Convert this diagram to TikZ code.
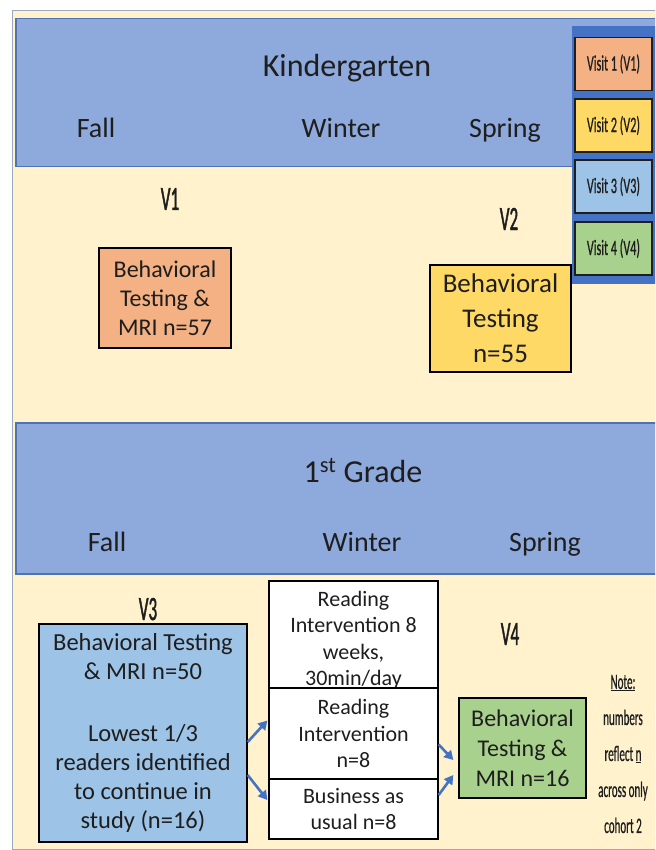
\documentclass[tikz,border=0pt]{standalone}
\usepackage{fontspec}
\setmainfont{Carlito}
\newfontfamily\narrowV[FakeStretch=0.5,FakeBold=1.2]{Carlito}
\newfontfamily\narrowL[FakeStretch=0.55,FakeBold=0.6]{Carlito}
\newfontfamily\narrowN[FakeStretch=0.5,FakeBold=0.6]{Carlito}
\usetikzlibrary{arrows.meta}
\definecolor{cream}{HTML}{FFF2CC}
\definecolor{bandblue}{HTML}{8EA9DB}
\definecolor{bandedge}{HTML}{4F72B5}
\definecolor{framecol}{HTML}{9AA8C0}
\definecolor{legpanel}{HTML}{4472C4}
\definecolor{legedge}{HTML}{1E1E1E}
\definecolor{vonecol}{HTML}{F4B183}
\definecolor{vtwocol}{HTML}{FFD966}
\definecolor{vthreecol}{HTML}{9DC3E6}
\definecolor{vfourcol}{HTML}{A9D18E}
\definecolor{arrblue}{HTML}{4472C4}
\definecolor{txt}{HTML}{1E1E1E}
\begin{document}
\begin{tikzpicture}[x=1pt,y=-1pt,
  band/.style={fill=bandblue, draw=bandedge, line width=1.5pt, inner sep=0, anchor=north west},
  hdr/.style={font=\fontsize{28}{34}\selectfont, text=txt, anchor=base, inner sep=0},
  ttl/.style={font=\fontsize{32}{38}\selectfont, text=txt, anchor=base, inner sep=0},
  vlab/.style={font=\narrowV\fontsize{34}{40}\selectfont, text=txt, anchor=base, inner sep=0},
  box/.style={draw=black, line width=1.3pt, inner sep=0, align=center, text=txt},
  btext/.style={inner sep=0, align=center, text=txt},
  legbox/.style={draw=legedge, line width=1.5pt, minimum width=77pt, minimum height=53pt, inner sep=0, text=txt, font=\narrowL\fontsize{22}{26}\selectfont},
  arr/.style={draw=arrblue, line width=2.6pt, -{Triangle[length=9pt,width=10pt]}}
]
\useasboundingbox (0,0) rectangle (655,850);
\clip (0,0) rectangle (655,850);
\fill[white] (0,0) rectangle (655,850);

% outer frame
\node[fill=cream, draw=framecol, line width=1pt, inner sep=0, anchor=north west,
      minimum width=650pt, minimum height=839pt] (frame) at (12,10) {};

% bands
\node[band, minimum width=645pt, minimum height=148pt] (kband) at (15,18) {};
\node[band, minimum width=645pt, minimum height=151pt] (gband) at (15,422) {};

% legend
\node[fill=legpanel, inner sep=0, anchor=north west, minimum width=90pt, minimum height=258pt] (legend) at (572,26) {};
\node[legbox, fill=vonecol] (lg1) at (613.5,64) {Visit 1 (V1)};
\node[legbox, fill=vtwocol] (lg2) at (613.5,125.5) {Visit 2 (V2)};
\node[legbox, fill=vthreecol] (lg3) at (613.5,186.5) {Visit 3 (V3)};
\node[legbox, fill=vfourcol] (lg4) at (613.5,248.5) {Visit 4 (V4)};

% Kindergarten header
\node[ttl] (ktitle) at (347,77) {Kindergarten};
\node[hdr] (kfall) at (96,138) {Fall};
\node[hdr] (kwinter) at (341,138) {Winter};
\node[hdr] (kspring) at (505,138) {Spring};

% Kindergarten content
\node[vlab] (v1lab) at (170,210) {V1};
\node[vlab] (v2lab) at (509,230) {V2};
\node[box, fill=vonecol, minimum width=132pt, minimum height=100pt,
      font=\fontsize{24}{29}\selectfont] (v1box) at (165,298)
      {Behavioral\\Testing \&\\MRI n=57};
\node[box, fill=vtwocol, minimum width=141pt, minimum height=107pt,
      font=\fontsize{27}{35}\selectfont] (v2box) at (500.5,318.5)
      {Behavioral\\Testing\\n=55};

% 1st grade header
\node[ttl] (gtitle) at (363,482) {1\textsuperscript{st} Grade};
\node[hdr] (gfall) at (107,551) {Fall};
\node[hdr] (gwinter) at (362,551) {Winter};
\node[hdr] (gspring) at (545,551) {Spring};

% 1st grade content
\node[vlab] (v3lab) at (148,620) {V3};
\node[vlab] (v4lab) at (510,645) {V4};

\node[box, fill=vthreecol, minimum width=208pt, minimum height=218pt,
      font=\fontsize{24.5}{29}\selectfont] (v3box) at (143,733)
      {Behavioral Testing\\\& MRI n=50\\[33pt]Lowest 1/3\\readers identified\\to continue in\\study (n=16)};

\node[box, fill=white, minimum width=169pt, minimum height=107pt] (topbox) at (353.5,634.5) {};
\node[btext, font=\fontsize{22}{26.5}\selectfont] (toptext) at (353.5,640)
      {Reading\\Intervention 8\\weeks,\\30min/day};
\node[box, fill=white, minimum width=169pt, minimum height=91pt,
      font=\fontsize{22}{26.5}\selectfont] (midbox) at (353.5,733.5)
      {Reading\\Intervention\\n=8};
\node[box, fill=white, minimum width=169pt, minimum height=60pt,
      font=\fontsize{22}{26.5}\selectfont] (botbox) at (353.5,809)
      {Business as\\usual n=8};

\node[box, fill=vfourcol, minimum width=127pt, minimum height=100pt,
      font=\fontsize{24}{30}\selectfont] (v4box) at (522.5,748)
      {Behavioral\\Testing \&\\MRI n=16};

\node[inner sep=0, align=center, text=txt, font=\narrowN\fontsize{22}{36}\selectfont] (note) at (623,754)
      {\underline{Note:}\\numbers\\reflect \underline{n}\\across only\\cohort 2};

% arrows
\draw[arr] ([yshift=-9pt]v3box.east) -- ([xshift=-1pt,yshift=13pt]midbox.west);
\draw[arr] ([yshift=-42pt]v3box.east) -- ([xshift=-1pt,yshift=9pt]botbox.west);
\draw[arr] ([yshift=-11pt]midbox.east) -- ([xshift=-5pt,yshift=-12pt]v4box.west);
\draw[arr] ([yshift=14pt]botbox.east) -- ([xshift=-5pt,yshift=-27pt]v4box.west);
\end{tikzpicture}
\end{document}
